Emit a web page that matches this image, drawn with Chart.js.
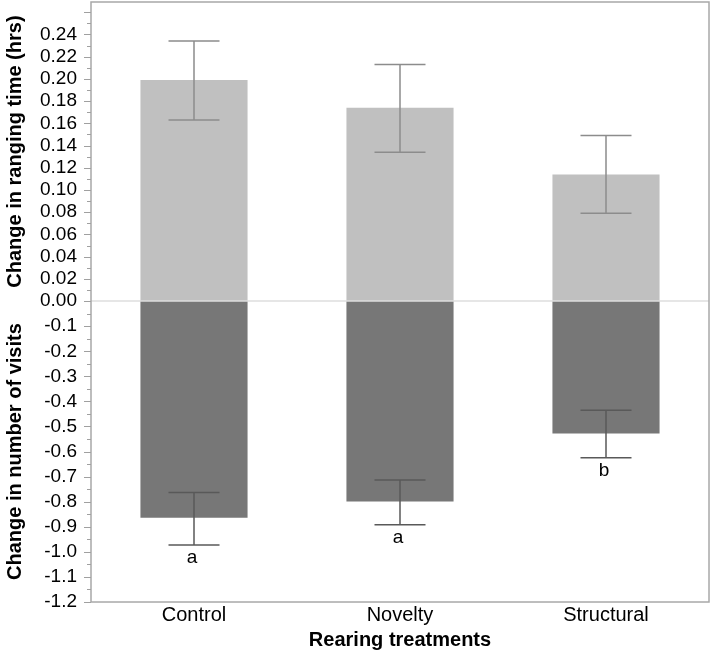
<!DOCTYPE html>
<html>
<head>
<meta charset="utf-8">
<script src="https://cdn.jsdelivr.net/npm/chart.js@4.4.1/dist/chart.umd.min.js"></script>
<style>
  html, body { margin: 0; padding: 0; background: #fff; }
  #wrap { width: 711px; height: 653px; }
</style>
</head>
<body>
<div id="wrap"><canvas id="chart"></canvas></div>
<script>
// values
const treatments = ["Control", "Novelty", "Structural"];
const rangingMean = [0.199, 0.174, 0.114];
const rangingUpper = [0.234, 0.213, 0.149];
const rangingLower = [0.163, 0.134, 0.079];
const visitsMean = [-0.864, -0.799, -0.528];
const visitsUpper = [-0.763, -0.713, -0.435];
const visitsLower = [-0.973, -0.892, -0.625];
const groupLetters = ["a", "a", "b"];
const rangingTicks = [0.00, 0.02, 0.04, 0.06, 0.08, 0.10, 0.12, 0.14, 0.16, 0.18, 0.20, 0.22, 0.24];
const visitsTicks = [-0.1, -0.2, -0.3, -0.4, -0.5, -0.6, -0.7, -0.8, -0.9, -1.0, -1.1, -1.2];

// the upper half is in hours, the lower in visits: 0.02 hrs takes the room of ~0.0886 visits
const HRS = 4.432;
const toAxis = (h) => h * HRS;

const font = "'Liberation Sans', Arial, sans-serif";

const decorations = {
  id: "decorations",
  afterDatasetsDraw(chart) {
    const ctx = chart.ctx;
    const area = chart.chartArea;
    const x = chart.scales.x;
    const y = chart.scales.y;
    ctx.save();

    // zero line
    const y0 = y.getPixelForValue(0);
    ctx.strokeStyle = "#dedede";
    ctx.lineWidth = 1.5;
    ctx.beginPath();
    ctx.moveTo(area.left, y0);
    ctx.lineTo(area.right, y0);
    ctx.stroke();

    // error bars
    function errBar(cx, a, b, color) {
      ctx.strokeStyle = color;
      ctx.lineWidth = 1.5;
      ctx.beginPath();
      ctx.moveTo(cx, a); ctx.lineTo(cx, b);
      ctx.moveTo(cx - 25.5, a); ctx.lineTo(cx + 25.5, a);
      ctx.moveTo(cx - 25.5, b); ctx.lineTo(cx + 25.5, b);
      ctx.stroke();
    }
    treatments.forEach((t, i) => {
      const cx = x.getPixelForValue(i);
      errBar(cx, y.getPixelForValue(toAxis(rangingUpper[i])), y.getPixelForValue(toAxis(rangingLower[i])), "#8c8c8c");
      errBar(cx, y.getPixelForValue(visitsUpper[i]), y.getPixelForValue(visitsLower[i]), "#595959");
      ctx.fillStyle = "#000";
      ctx.font = "19px " + font;
      ctx.textAlign = "center";
      ctx.textBaseline = "middle";
      ctx.fillText(groupLetters[i], cx - 2, y.getPixelForValue(visitsLower[i]) + 13);
    });

    // frame
    ctx.strokeStyle = "#a8a8a8";
    ctx.lineWidth = 1.5;
    ctx.strokeRect(area.left, area.top, area.right - area.left, area.bottom - area.top);

    // tick marks, major and minor
    ctx.strokeStyle = "#a0a0a0";
    ctx.lineWidth = 1;
    function mark(v, len) {
      const py = Math.round(y.getPixelForValue(v)) + 0.5;
      ctx.beginPath();
      ctx.moveTo(area.left - len, py);
      ctx.lineTo(area.left, py);
      ctx.stroke();
    }
    rangingTicks.forEach((h) => mark(toAxis(h), 7));
    visitsTicks.forEach((v) => mark(v, 7));
    for (let k = 1; k <= 26; k += 1) {
      if (k % 2 === 1 || k === 26) mark(toAxis(k / 100), k === 26 ? 7 : 4);
    }
    for (let k = 1; k < 24; k += 2) mark(-k * 0.05, 4);

    // axis titles
    ctx.fillStyle = "#000";
    ctx.font = "bold 20px " + font;
    ctx.textAlign = "center";
    ctx.textBaseline = "middle";
    ctx.save();
    ctx.translate(15, (area.top + y0) / 2);
    ctx.rotate(-Math.PI / 2);
    ctx.fillText("Change in ranging time (hrs)", 0, 0);
    ctx.restore();
    ctx.save();
    ctx.translate(15, (y0 + area.bottom) / 2);
    ctx.rotate(-Math.PI / 2);
    ctx.fillText("Change in number of visits", 0, 0);
    ctx.restore();
    ctx.fillText("Rearing treatments", (area.left + area.right) / 2, 640);

    ctx.restore();
  },
};

new Chart(document.getElementById("chart"), {
  type: "bar",
  data: {
    labels: treatments,
    datasets: [
      { label: "Ranging time", data: rangingMean.map(toAxis), backgroundColor: "#c0c0c0" },
      { label: "Visits", data: visitsMean, backgroundColor: "#777777" },
    ],
  },
  options: {
    responsive: true,
    maintainAspectRatio: false,
    animation: false,
    layout: { padding: { top: 2, right: 2, left: 0, bottom: 0 } },
    plugins: { legend: { display: false }, tooltip: { enabled: false } },
    datasets: { bar: { categoryPercentage: 1, barPercentage: 0.52 } },
    scales: {
      x: {
        stacked: true,
        grid: { display: false, drawTicks: false },
        border: { display: false },
        ticks: { color: "#000", padding: 1, font: { family: font, size: 20 } },
        afterFit(scale) {
          scale.height = 51;
          scale.paddingLeft = 0;
          scale.paddingRight = 0;
        },
      },
      y: {
        stacked: true,
        min: -1.2,
        max: 1.193,
        grid: { display: false, drawTicks: false },
        border: { display: false },
        afterBuildTicks(scale) {
          scale.ticks = visitsTicks.map((v) => ({ value: v })).reverse()
            .concat(rangingTicks.map((h) => ({ value: toAxis(h) })));
        },
        afterFit(scale) {
          scale.width = 91;
          scale.paddingTop = 0;
          scale.paddingBottom = 0;
        },
        ticks: {
          autoSkip: false,
          color: "#000",
          padding: 14,
          font: { family: font, size: 19 },
          callback: (value) => (value > -1e-6 ? (value / HRS).toFixed(2) : value.toFixed(1)),
        },
      },
    },
  },
  plugins: [decorations],
});
</script>
</body>
</html>
